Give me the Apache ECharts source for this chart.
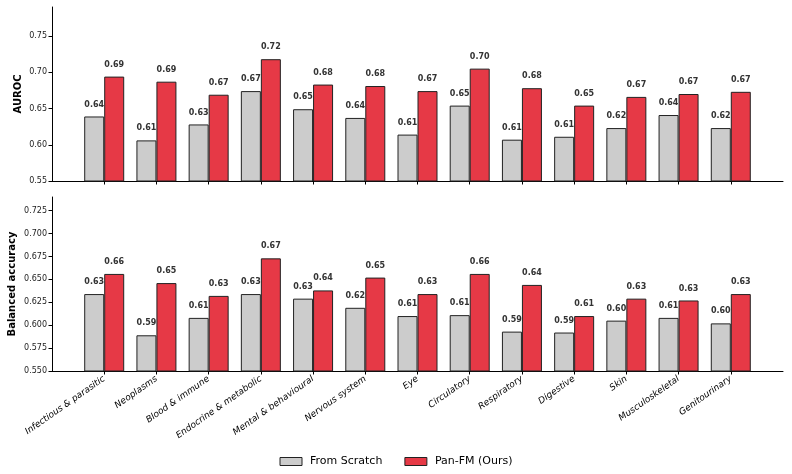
<!DOCTYPE html>
<html>
<head>
<meta charset="utf-8">
<script src="https://cdn.jsdelivr.net/npm/echarts@6/dist/echarts.min.js"></script>
<style>
  html, body { margin: 0; padding: 0; background: #fff; }
  #main { width: 792px; height: 474px; }
</style>
</head>
<body>
<div id="main"></div>
<script>
const categories = ['Infectious & parasitic', 'Neoplasms', 'Blood & immune', 'Endocrine & metabolic',
  'Mental & behavioural', 'Nervous system', 'Eye', 'Circulatory', 'Respiratory', 'Digestive',
  'Skin', 'Musculoskeletal', 'Genitourinary'];

const aurocScratch = [0.639, 0.606, 0.628, 0.674, 0.649, 0.637, 0.614, 0.654, 0.607, 0.611, 0.623, 0.641, 0.623];
const aurocPanFM   = [0.694, 0.687, 0.669, 0.718, 0.683, 0.681, 0.674, 0.705, 0.678, 0.654, 0.666, 0.670, 0.673];
const baccScratch  = [0.634, 0.589, 0.608, 0.634, 0.629, 0.619, 0.610, 0.611, 0.593, 0.592, 0.605, 0.608, 0.602];
const baccPanFM    = [0.656, 0.646, 0.632, 0.673, 0.638, 0.652, 0.634, 0.656, 0.644, 0.610, 0.629, 0.627, 0.634];

const aurocTicks = [0.55, 0.79, 0.05];
const baccTicks = [0.55, 0.74, 0.025];

const GREY = '#cccccc';
const RED = '#e63946';
const FONT = 'DejaVu Sans';

// pad one empty slot at each end so the bars sit inside like matplotlib's margins
const pad = arr => [null].concat(arr, [null]);
const cats = pad(categories).map(c => c || '');

const chart = echarts.init(document.getElementById('main'), null, { renderer: 'canvas' });

function xAxis(gridIndex, showLabels) {
  return {
    type: 'category',
    gridIndex: gridIndex,
    data: cats,
    boundaryGap: false,
    axisLine: { lineStyle: { color: '#000', width: 1 } },
    axisTick: {
      show: true, inside: false, length: 3.5,
      lineStyle: { color: '#000' },
      interval: (i) => i > 0 && i < cats.length - 1
    },
    axisLabel: {
      show: showLabels,
      interval: 0,
      rotate: 35,
      margin: 7,
      fontFamily: FONT,
      fontStyle: 'italic',
      fontSize: 9,
      color: '#000'
    },
    splitLine: { show: false }
  };
}

function yAxis(gridIndex, name, ticks, digits, gap) {
  return {
    type: 'value',
    gridIndex: gridIndex,
    min: ticks[0],
    max: ticks[1],
    interval: ticks[2],
    name: name,
    nameLocation: 'middle',
    nameGap: gap,
    nameMoveOverlap: false,
    nameTextStyle: { fontFamily: FONT, fontWeight: 'bold', fontSize: 10, color: '#000' },
    axisLine: { show: true, lineStyle: { color: '#000', width: 1 } },
    axisTick: { show: true, length: 3.5, lineStyle: { color: '#000' } },
    axisLabel: {
      fontFamily: FONT, fontSize: 8, color: '#222', margin: 5,
      showMaxLabel: false,
      formatter: v => v.toFixed(digits)
    },
    splitLine: { show: false }
  };
}

function barSeries(name, values, color, axisIndex) {
  return {
    name: name,
    type: 'bar',
    xAxisIndex: axisIndex,
    yAxisIndex: axisIndex,
    data: pad(values),
    barWidth: 20,
    barGap: '0%',
    itemStyle: { color: color, borderColor: '#222', borderWidth: 1 },
    label: {
      show: true,
      position: 'top',
      distance: 8,
      fontFamily: FONT,
      fontWeight: 'bold',
      fontSize: 8,
      color: '#333',
      formatter: p => p.value == null ? '' : p.value.toFixed(2)
    },
    emphasis: { disabled: true }
  };
}

chart.setOption({
  animation: false,
  backgroundColor: '#fff',
  textStyle: { fontFamily: FONT },
  grid: [
    { left: 52, right: 9, top: 7, height: 174, containLabel: false, outerBoundsMode: 'none' },
    { left: 52, right: 9, top: 197, height: 174, containLabel: false, outerBoundsMode: 'none' }
  ],
  xAxis: [xAxis(0, false), xAxis(1, true)],
  yAxis: [
    yAxis(0, 'AUROC', aurocTicks, 2, 29),
    yAxis(1, 'Balanced accuracy', baccTicks, 3, 35)
  ],
  legend: {
    bottom: 2,
    left: 'center',
    itemWidth: 22,
    itemHeight: 8,
    itemGap: 22,
    icon: 'rect',
    textStyle: { fontFamily: FONT, fontSize: 11, color: '#000', padding: [0, 0, 0, 3] },
    data: [
      { name: 'From Scratch', itemStyle: { color: GREY, borderColor: '#222', borderWidth: 1 } },
      { name: 'Pan-FM (Ours)', itemStyle: { color: RED, borderColor: '#222', borderWidth: 1 } }
    ]
  },
  series: [
    barSeries('From Scratch', aurocScratch, GREY, 0),
    barSeries('Pan-FM (Ours)', aurocPanFM, RED, 0),
    barSeries('From Scratch', baccScratch, GREY, 1),
    barSeries('Pan-FM (Ours)', baccPanFM, RED, 1)
  ]
});
</script>
</body>
</html>
